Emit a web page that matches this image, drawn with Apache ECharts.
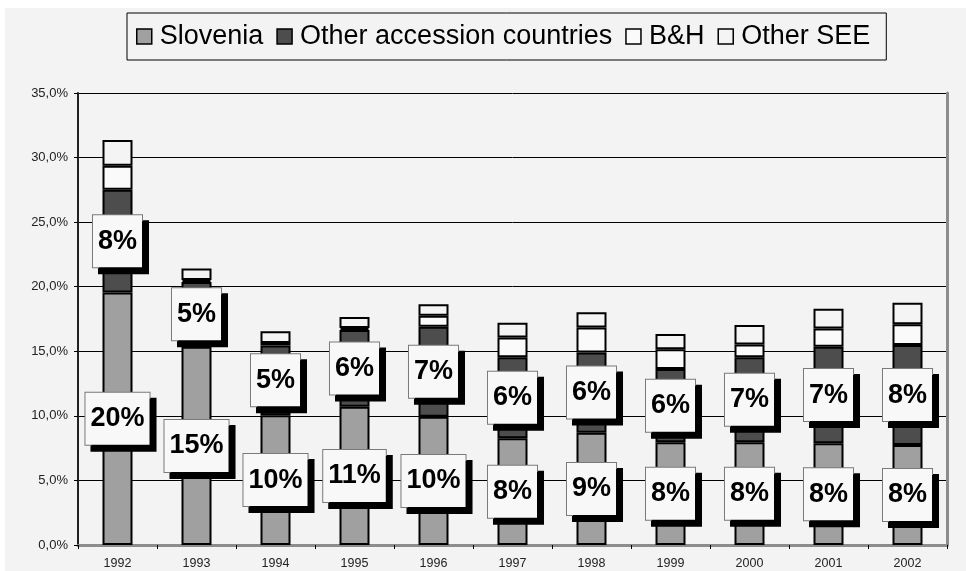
<!DOCTYPE html>
<html>
<head>
<meta charset="utf-8">
<script src="https://cdn.jsdelivr.net/npm/echarts@6/dist/echarts.min.js"></script>
<style>
html,body{margin:0;padding:0;background:#ffffff;}
#chart{width:966px;height:571px;}
</style>
</head>
<body>
<div id="chart"></div>
<script>
const categories = ['1992','1993','1994','1995','1996','1997','1998','1999','2000','2001','2002'];
const seriesNames = ['Slovenia','Other accession countries','B&H','Other SEE'];
const slovenia = [19.56, 15.35, 10.05, 10.7, 9.93, 8.26, 8.69, 7.95, 7.95, 7.87, 7.74];
const otherAccession = [7.94, 5.02, 5.4, 5.95, 6.97, 6.27, 6.22, 5.67, 6.58, 7.48, 7.74];
const bh = [1.86, 0.15, 0.2, 0.15, 0.85, 1.54, 1.94, 1.53, 1.0, 1.42, 1.62];
const otherSEE = [2.0, 0.9, 0.9, 0.85, 0.9, 1.13, 1.18, 1.18, 1.5, 1.52, 1.65];
const yMin = 0, yMax = 35, yStep = 5;

const chart = echarts.init(document.getElementById('chart'), null, {renderer:'canvas'});

const boxLabel = {
  show: true,
  position: 'inside',
  formatter: p => Math.round(p.value) + '%',
  color: '#000',
  fontFamily: 'Liberation Sans, Arial, sans-serif',
  fontWeight: 'bold',
  fontSize: 27,
  lineHeight: 27,
  backgroundColor: '#f8f8f8',
  borderColor: '#7a7a7a',
  borderWidth: 1,
  padding: [12, 5, 13, 5],
  shadowColor: '#000',
  shadowBlur: 0,
  shadowOffsetX: 6,
  shadowOffsetY: 6
};

function barSeries(name, data, color, withLabel){
  return {
    name: name,
    type: 'bar',
    stack: 'total',
    data: data,
    barWidth: 30,
    itemStyle: {color: color, borderColor: '#000', borderWidth: 2},
    label: withLabel ? boxLabel : {show:false},
    emphasis: {disabled: true},
    animation: false
  };
}

const option = {
  backgroundColor: '#f3f3f3',
  animation: false,
  legend: {
    data: seriesNames,
    icon: 'rect',
    left: 127,
    top: 13,
    padding: [10, 16, 10, 9],
    itemWidth: 15,
    itemHeight: 15,
    itemGap: 13,
    borderColor: '#000',
    borderWidth: 1,
    backgroundColor: '#f3f3f3',
    itemStyle: {borderColor: '#000', borderWidth: 1.5},
    textStyle: {fontFamily: 'Liberation Sans, Arial, sans-serif', fontSize: 27, color: '#000', padding: [0,0,0,3]},
    selectedMode: false
  },
  grid: {left: 78, right: 19, top: 93, bottom: 26, containLabel: false},
  xAxis: [{
    type: 'category',
    data: categories,
    axisLine: {lineStyle: {color: '#000', width: 2}},
    axisTick: {show: true, length: 4, lineStyle: {color: '#000', width: 1}},
    axisLabel: {color: '#222', fontFamily: 'Liberation Sans, Arial, sans-serif', fontSize: 12.5, margin: 12}
  }, {
    type: 'category',
    data: categories,
    position: 'top',
    axisLine: {lineStyle: {color: '#8c8c8c', width: 3}},
    axisTick: {show: false},
    axisLabel: {show: false}
  }],
  yAxis: [{
    type: 'value',
    min: yMin, max: yMax, interval: yStep,
    axisLine: {show: true, lineStyle: {color: '#222', width: 2}},
    axisTick: {show: true, length: 4, lineStyle: {color: '#000'}},
    splitLine: {show: true, lineStyle: {color: '#000', width: 1}},
    axisLabel: {
      color: '#222', fontFamily: 'Liberation Sans, Arial, sans-serif', fontSize: 13, margin: 10,
      formatter: v => v.toFixed(1).replace('.', ',') + '%'
    }
  }, {
    type: 'value',
    position: 'right',
    min: yMin, max: yMax, interval: yStep,
    axisLine: {show: true, lineStyle: {color: '#8c8c8c', width: 3}},
    axisTick: {show: false},
    axisLabel: {show: false},
    splitLine: {show: false}
  }],
  graphic: [
    {type: 'rect', left: 0, top: 0, shape: {width: 966, height: 8}, style: {fill: '#ffffff'}, silent: true},
    {type: 'rect', left: 0, top: 0, shape: {width: 5, height: 571}, style: {fill: '#ffffff'}, silent: true}
  ],
  series: [
    barSeries(seriesNames[0], slovenia, '#a0a0a0', true),
    barSeries(seriesNames[1], otherAccession, '#4d4d4d', true),
    barSeries(seriesNames[2], bh, '#fafafa', false),
    barSeries(seriesNames[3], otherSEE, '#f4f4f4', false)
  ]
};
chart.setOption(option);
</script>
</body>
</html>
